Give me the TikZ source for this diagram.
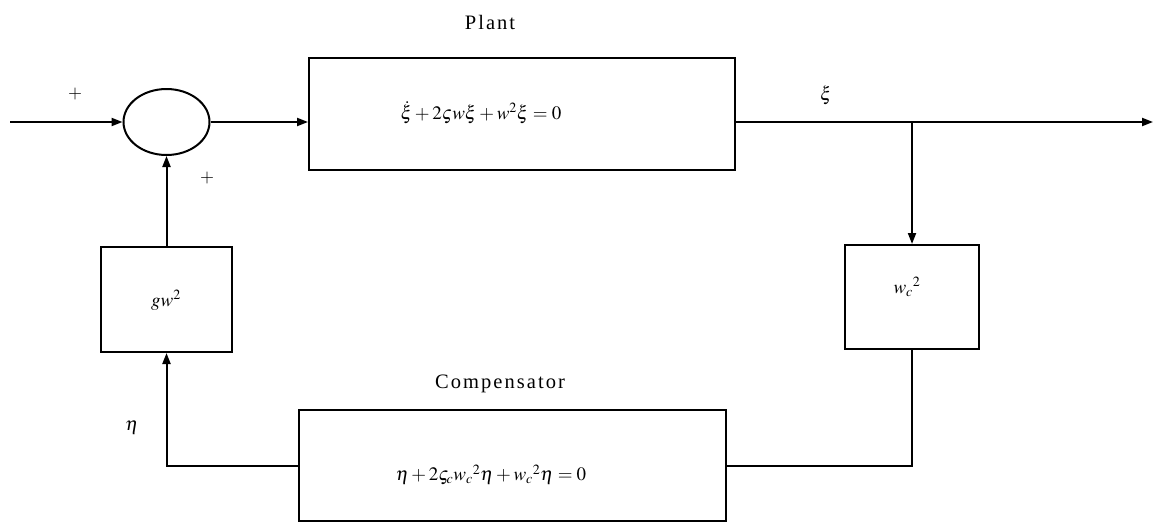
\documentclass[tikz,border=0pt]{standalone}
\usepackage{amsmath}
\usepackage{mathptmx}
\usepackage{fontspec}
\newfontfamily\lblfont[LetterSpace=10]{Liberation Serif}
\usetikzlibrary{arrows.meta,shapes.geometric}
\begin{document}
\begin{tikzpicture}[x=1pt,y=-1pt,
  line width=2pt,
  blk/.style={draw,rectangle,line width=2pt,inner sep=0pt},
  sumnode/.style={draw,ellipse,line width=2pt,minimum width=86pt,minimum height=66pt,inner sep=0pt},
  tip/.style={-{Triangle[length=11pt,width=8pt]}},
  lbl/.style={font=\fontsize{20.5}{24}\selectfont\lblfont},
  eq/.style={font=\fontsize{19}{22}\selectfont},
  sgn/.style={font=\fontsize{18}{20}\selectfont}]
\useasboundingbox (0,0) rectangle (1155,523);
% blocks
\node[sumnode] (sum) at (166.5,122) {};
\node[blk,minimum width=426pt,minimum height=112pt] (plant) at (522,114) {};
\node[blk,minimum width=134pt,minimum height=104pt] (wc) at (912,297) {};
\node[blk,minimum width=427pt,minimum height=111pt] (comp) at (512.5,465.5) {};
\node[blk,minimum width=131pt,minimum height=105pt] (gw) at (166.5,299.5) {};
% texts inside blocks
\node[eq] (plantEq) at (481,113) {$\dot{\xi}+2\varsigma w\xi+w^{2}\xi=0$};
\node[eq] (compEq) at (491,475) {$\eta+2\varsigma_{c}w_{c}{}^{2}\eta+w_{c}{}^{2}\eta=0$};
\node[eq] (wcText) at (907,287) {$w_{c}{}^{2}$};
\node[eq] (gwText) at (166,300) {$gw^{2}$};
% titles and labels
\node[lbl] (plantLbl) at (490,22) {Plant};
\node[lbl] (compLbl) at (500,384) {Compensator};
\node[sgn] (plus1) at (75,94) {$+$};
\node[sgn] (plus2) at (207,178) {$+$};
\node[eq] (xiLbl) at (826,95) {$\xi$};
\node[eq] (etaLbl) at (132,428) {$\eta$};
% coordinates
\coordinate (in) at (10,122);
\coordinate (br) at (912,122);
\coordinate (out) at (1153,122);
% connectors
\draw[tip] (in) -- (sum.west);
\draw[tip] (sum.east) -- (sum.east -| plant.west);
\draw (sum.east -| plant.east) -- (br);
\draw[tip] (br) -- (out);
\draw[tip] (br) -- (wc.north);
\draw (wc.south) |- (comp.east);
\draw[tip] (comp.west) -| (gw.south);
\draw[tip] (gw.north) -- (sum.south);
\end{tikzpicture}
\end{document}
